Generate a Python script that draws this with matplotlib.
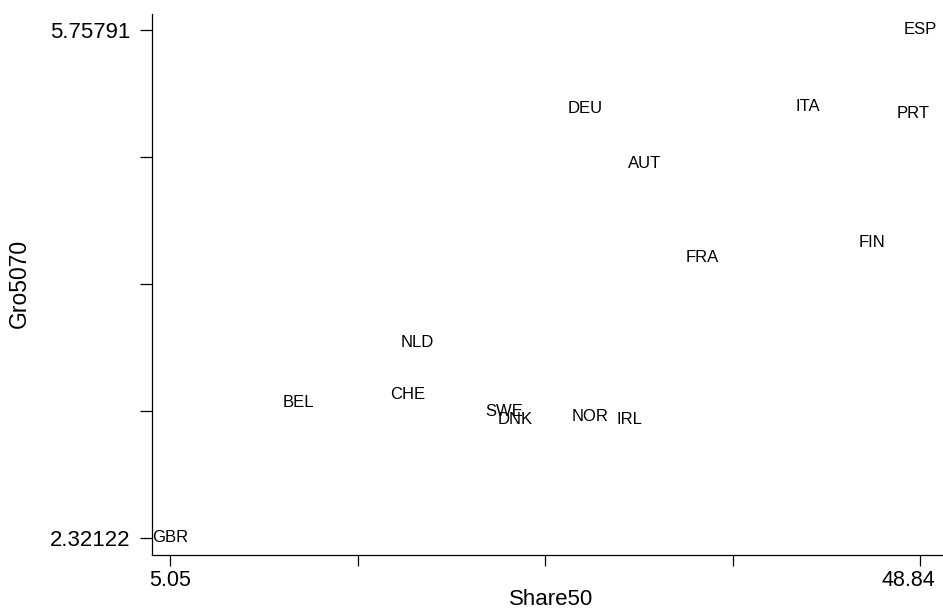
import matplotlib
matplotlib.use("Agg")
import matplotlib.pyplot as plt
import matplotlib.transforms as mtransforms
import numpy as np

countries = ["GBR", "BEL", "CHE", "NLD", "SWE", "DNK", "DEU", "NOR", "IRL",
             "AUT", "FRA", "ITA", "FIN", "PRT", "ESP"]
share50 = [5.05, 12.52, 18.95, 19.47, 24.55, 25.19, 29.28, 29.57, 31.85,
           32.73, 36.11, 42.30, 46.04, 48.43, 48.84]
gro5070 = [2.32122, 3.235, 3.289, 3.641, 3.174, 3.120, 5.230, 3.140, 3.120,
           4.852, 4.222, 5.237, 4.317, 5.190, 5.75791]

xticks = np.linspace(5.05, 48.84, 5)
yticks = np.linspace(2.32122, 5.75791, 5)
xticklabels = ["5.05", "", "", "", "48.84"]
yticklabels = ["2.32122", "", "", "", "5.75791"]

plt.rcParams['font.family'] = ['Liberation Sans', 'DejaVu Sans']

fig = plt.figure(figsize=(9.43, 6.09), dpi=100)
ax = fig.add_axes([152/943, 1-555/609, 1-152/943, (555-14)/609])

for c, x, y in zip(countries, share50, gro5070):
    ax.text(x, y, c, ha="center", va="center", fontsize=12, color="black")

ax.set_xlim(4.0, 50.18)
ax.set_ylim(2.206, 5.866)
ax.set_xticks(xticks)
ax.set_xticklabels(xticklabels, fontsize=15.5)
ax.set_yticks(yticks)
ax.set_yticklabels(yticklabels, fontsize=16)
ax.tick_params(axis="y", length=8.5, width=0.9, pad=7)
ax.tick_params(axis="x", length=8, width=0.9, pad=3)
# shift the last x tick label left so it stays inside the figure
lbl = ax.get_xticklabels()[-1]
lbl.set_transform(lbl.get_transform() +
                  mtransforms.ScaledTranslation(-12/100, 0, fig.dpi_scale_trans))
for s in ["top", "right"]:
    ax.spines[s].set_visible(False)
for s in ["left", "bottom"]:
    ax.spines[s].set_linewidth(0.9)
ax.set_xlabel("Share50", fontsize=16)
ax.xaxis.set_label_coords((551-152)/791, (555-605)/541)
ax.xaxis.label.set_va("baseline")
ax.set_ylabel("Gro5070", fontsize=16.5)
ax.yaxis.set_label_coords((26-152)/791, (555-283)/541)
ax.yaxis.label.set_va("baseline")

fig.savefig("out.png", dpi=100)
